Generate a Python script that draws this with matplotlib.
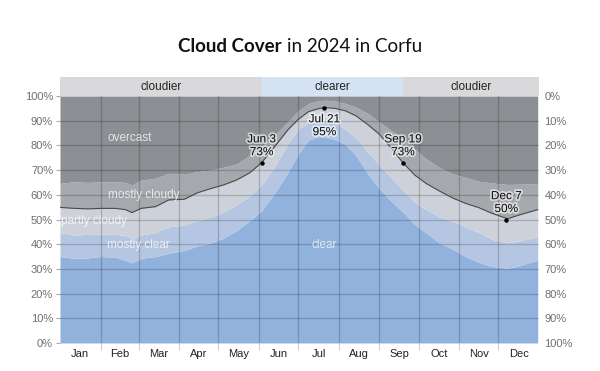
import matplotlib
matplotlib.use("Agg")
import matplotlib.pyplot as plt
import matplotlib.patheffects as pe
import numpy as np

# ---------------- data ----------------
days = [0, 11, 22, 31, 42, 50, 55, 62, 73, 83, 95, 105, 115, 125, 135, 145, 154,
        164, 174, 182, 190, 197, 202, 210, 218, 226, 235, 244, 253, 262, 271, 280,
        290, 300, 310, 320, 330, 342, 352, 365]
clear_top = [35, 34.3, 34.5, 35, 34.8, 33.5, 32.5, 34.3, 35, 36.3, 37.5, 39.3, 40.5,
             42.5, 45.5, 49.5, 53.5, 60.6, 69, 76.5, 82.2, 83.5, 83.5, 82.5, 80.5, 76,
             68.7, 62.5, 57.5, 53, 48, 44.5, 40.5, 38, 35, 32.7, 31, 30.2, 31.5, 33.6]
mostly_clear_top = [44.7, 43.7, 44, 44.1, 44, 43.5, 42.4, 43.7, 44.7, 47, 47.8, 49.5, 51,
                    53, 56, 59.5, 64, 71.4, 80.5, 86.5, 89.3, 90.3, 90.3, 89, 86.5, 83,
                    77.5, 72, 67, 62, 57, 54, 51, 49.3, 47, 44.8, 42, 40.5, 41.5, 43]
partly_cloudy_top = [54.9, 54.5, 54.3, 54.5, 54.5, 54, 52.8, 54.5, 55.2, 57.9, 58.2, 60.8,
                     62.5, 64, 66, 68.9, 73, 79.5, 86.2, 90.5, 93.7, 94.8, 95.3, 95, 94,
                     92, 88.5, 84.5, 79, 73, 68, 64.5, 61.5, 58.7, 56.5, 54.8, 52.5, 50.3,
                     52, 54]
mostly_cloudy_top = [64.6, 65.3, 65, 65.3, 65.3, 65, 64, 66, 66.7, 68.7, 68.3, 69.4, 70,
                     71.2, 72.5, 76, 79.5, 84.2, 89.5, 94, 97, 98, 98.3, 98, 97, 95.5, 93,
                     89.5, 86, 83, 78.5, 74.5, 71, 68.5, 67, 65.5, 64.8, 64.2, 64.3, 64.6]

annot_days = [154, 202, 262, 341]
annot_labels = ["Jun 3\n73%", "Jul 21\n95%", "Sep 19\n73%", "Dec 7\n50%"]
annot_values = [73, 95, 73, 50]
annot_below = [False, True, False, False]

band_edges = [0, 154, 262, 366]
band_labels = ["cloudier", "clearer", "cloudier"]

months = ["Jan", "Feb", "Mar", "Apr", "May", "Jun", "Jul", "Aug", "Sep", "Oct", "Nov", "Dec"]
month_starts = [0, 31, 60, 91, 121, 152, 182, 213, 244, 274, 305, 335, 366]

y_ticks = [0, 10, 20, 30, 40, 50, 60, 70, 80, 90, 100]

# ---------------- styling ----------------
c_clear = "#92b2de"
c_mclear = "#b4c6e1"
c_pcloudy = "#cdd2da"
c_mcloudy = "#a5a8ad"
c_overcast = "#8c8f93"

W, H = 600, 371
fig = plt.figure(figsize=(W / 100, H / 100), dpi=100)
L, R, T, B = 60, 539, 96, 343
ax = fig.add_axes([L / W, 1 - B / H, (R - L) / W, (B - T) / H])

d = np.array(days, dtype=float)
b1 = np.array(clear_top)
b2 = np.array(mostly_clear_top)
b3 = np.array(partly_cloudy_top)
b4 = np.array(mostly_cloudy_top)

ax.fill_between(d, 0, b1, color=c_clear, lw=0)
ax.fill_between(d, b1, b2, color=c_mclear, lw=0)
ax.fill_between(d, b2, b3, color=c_pcloudy, lw=0)
ax.fill_between(d, b3, b4, color=c_mcloudy, lw=0)
ax.fill_between(d, b4, 100, color=c_overcast, lw=0)
ax.plot(d, b3, color="#4a4a4a", lw=0.8, zorder=3)

ax.set_xlim(0, 366)
ax.set_ylim(0, 100)

# grid
for m in month_starts[1:-1]:
    ax.axvline(m, color="black", alpha=0.18, lw=1, zorder=2)
for yv in y_ticks[1:-1]:
    ax.axhline(yv, color="black", alpha=0.18, lw=1, zorder=2)

for s in ax.spines.values():
    s.set_visible(False)

ax.set_yticks(y_ticks)
ax.set_yticklabels([f"{v}%" for v in y_ticks], color="#6f6f6f", fontsize=8,
                   family="Liberation Sans")
ax.tick_params(axis="y", length=3, color="#aaaaaa", pad=2)

ax.set_xticks(month_starts[1:-1])
ax.set_xticklabels([])
ax.tick_params(axis="x", which="major", length=5, color="#cccccc")
mids = [(month_starts[i] + month_starts[i + 1]) / 2 for i in range(12)]
ax.set_xticks(mids, minor=True)
ax.set_xticklabels(months, minor=True, fontsize=8, color="#222222", family="Liberation Sans")
ax.tick_params(axis="x", which="minor", length=0, pad=4)

ax2 = ax.twinx()
ax2.set_ylim(100, 0)
ax2.set_yticks(y_ticks)
ax2.set_yticklabels([f"{v}%" for v in y_ticks], color="#6f6f6f", fontsize=8,
                    family="Liberation Sans")
ax2.tick_params(axis="y", length=0, pad=4)
for s in ax2.spines.values():
    s.set_visible(False)

# region labels
lab_kw = dict(color="white", alpha=0.75, fontsize=8.5, family="Liberation Sans", zorder=4)
ax.text(53, 83, "overcast", ha="center", va="center", **lab_kw)
ax.text(64, 60, "mostly cloudy", ha="center", va="center", **lab_kw)
ax.text(1, 49.5, "partly cloudy", ha="left", va="center", **lab_kw)
ax.text(60, 39.5, "mostly clear", ha="center", va="center", **lab_kw)
ax.text(202, 39.5, "clear", ha="center", va="center", **lab_kw)

# annotations
halo = [pe.withStroke(linewidth=2.5, foreground="white", alpha=0.6)]
for dd, lab, v, below in zip(annot_days, annot_labels, annot_values, annot_below):
    ax.plot([dd], [v], "o", color="black", ms=2.2, zorder=6)
    if below:
        ax.text(dd, v - 2.0, lab, ha="center", va="top", fontsize=8.5, color="#111111",
                family="Liberation Sans", linespacing=1.1, zorder=7, path_effects=halo)
    else:
        ax.text(dd, v + 1.8, lab, ha="center", va="bottom", fontsize=8.5, color="#111111",
                family="Liberation Sans", linespacing=1.1, zorder=7, path_effects=halo)

# band bar
bt = 77
axb = fig.add_axes([L / W, 1 - T / H, (R - L) / W, (T - bt) / H])
axb.set_xlim(0, 366)
axb.set_ylim(0, 1)
axb.axis("off")
for i, lab in enumerate(band_labels):
    col = "#d5e2f3" if lab == "clearer" else "#d9d9db"
    axb.axvspan(band_edges[i], band_edges[i + 1], color=col, lw=0)
    axb.text((band_edges[i] + band_edges[i + 1]) / 2, 0.48, lab, ha="center", va="center",
             fontsize=8.5, color="#222222", family="Liberation Sans")

# title (bold + regular parts, centred together)
title_y = 1 - 46 / H
tb = fig.text(0, title_y, "Cloud Cover", ha="left", va="center", fontsize=13.5,
              fontweight="bold", family="Lato", color="#111111")
tr = fig.text(0, title_y, "in 2024 in Corfu", ha="left", va="center", fontsize=13.5,
              family="Lato", color="#111111")
fig.canvas.draw()
r = fig.canvas.get_renderer()
wb = tb.get_window_extent(r).width
wr = tr.get_window_extent(r).width
gap = 5
x0 = (W - (wb + wr + gap)) / 2
tb.set_x(x0 / W)
tr.set_x((x0 + wb + gap) / W)

fig.savefig("out.png", dpi=100)
